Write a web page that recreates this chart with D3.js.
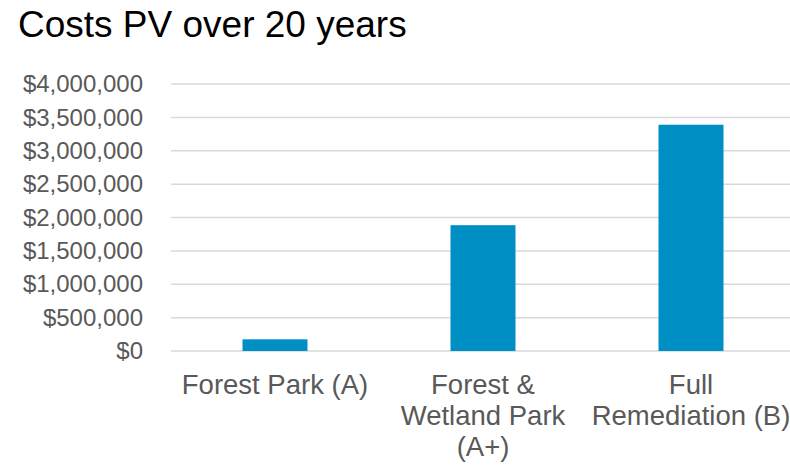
<!DOCTYPE html>
<html>
<head>
<meta charset="utf-8">
<script src="https://cdn.jsdelivr.net/npm/d3@7"></script>
<style>
  html, body { margin: 0; padding: 0; background: #fff; }
  svg { display: block; font-family: "Liberation Sans", Arial, sans-serif; }
</style>
</head>
<body>
<svg id="chart"></svg>
<script>
// data
const categories = ["Forest Park (A)", "Forest & Wetland Park (A+)", "Full Remediation (B)"];
const categoryLines = [["Forest Park (A)"], ["Forest &", "Wetland Park", "(A+)"], ["Full", "Remediation (B)"]];
const costs = [175000, 1885000, 3390000];
const yTicks = [0, 500000, 1000000, 1500000, 2000000, 2500000, 3000000, 3500000, 4000000];

const svgWidth = 790, svgHeight = 465;
const margin = { top: 84, right: -5, bottom: 114, left: 171 };

const svg = d3.select("#chart")
  .attr("width", svgWidth)
  .attr("height", svgHeight);

svg.append("text")
  .attr("x", 18)
  .attr("y", 37)
  .style("font-size", "37px")
  .style("fill", "#000")
  .text("Costs PV over 20 years");

const x = d3.scaleBand()
  .domain(categories)
  .range([margin.left, svgWidth - margin.right])
  .paddingInner(0.6875)
  .paddingOuter(0.34375);

const y = d3.scaleLinear()
  .domain([0, 4000000])
  .range([svgHeight - margin.bottom, margin.top]);

// gridlines
svg.append("g")
  .attr("class", "y-grid")
  .selectAll("line")
  .data(yTicks)
  .join("line")
  .attr("x1", margin.left)
  .attr("x2", svgWidth - margin.right)
  .attr("y1", (d) => y(d))
  .attr("y2", (d) => y(d))
  .style("stroke", "#d9d9d9")
  .style("stroke-width", 1.5);

// y axis labels
const yAxis = svg.append("g")
  .attr("transform", `translate(${margin.left},0)`)
  .call(
    d3.axisLeft(y)
      .tickValues(yTicks)
      .tickSize(0)
      .tickPadding(28)
      .tickFormat((d) => "$" + d3.format(",")(d))
  );
yAxis.select(".domain").remove();
yAxis.selectAll("text")
  .style("font-size", "24px")
  .style("fill", "#595959")
  .style("font-family", "'Liberation Sans', Arial, sans-serif");

// bars
svg.append("g")
  .selectAll(".bar")
  .data(categories)
  .join("rect")
  .attr("class", "bar")
  .attr("x", (d) => x(d))
  .attr("y", (d, i) => y(costs[i]))
  .attr("width", x.bandwidth())
  .attr("height", (d, i) => y(0) - y(costs[i]))
  .attr("fill", "#008fc4");

// x axis labels (wrapped)
const xAxis = svg.append("g")
  .attr("transform", `translate(0,${y(0)})`)
  .call(d3.axisBottom(x).tickSize(0).tickFormat(""));
xAxis.select(".domain").remove();
xAxis.selectAll(".tick").each(function (d) {
  const i = categories.indexOf(d);
  const t = d3.select(this).append("text")
    .attr("text-anchor", "middle")
    .attr("y", 43)
    .style("font-size", "27.5px")
    .style("fill", "#595959")
    .style("font-family", "'Liberation Sans', Arial, sans-serif");
  categoryLines[i].forEach((line, k) => {
    t.append("tspan")
      .attr("x", 0)
      .attr("y", 43 + k * 31)
      .text(line);
  });
});
</script>
</body>
</html>
